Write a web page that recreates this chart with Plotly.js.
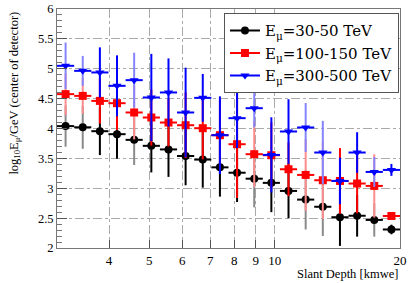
<!DOCTYPE html>
<html>
<head>
<meta charset="utf-8">
<script src="https://cdn.plot.ly/plotly-3.0.1.min.js"></script>
<style>html,body{margin:0;padding:0;background:#fff}#plot{width:415px;height:283px}</style>
</head>
<body>
<div id="plot"></div>
<script>
// Slant depth bin centres [kmwe]
const slantDepth = [3.146, 3.459, 3.803, 4.181, 4.597, 5.055, 5.558, 6.110, 6.718, 7.387, 8.122, 8.930, 9.818, 10.795, 11.870, 13.050, 14.349, 15.777, 17.346, 19.072];
// log10 E / GeV
const e30_50   = [4.04, 4.02, 3.955, 3.905, 3.81, 3.71, 3.65, 3.54, 3.48, 3.35, 3.26, 3.16, 3.09, 2.955, 2.81, 2.69, 2.515, 2.54, 2.47, 2.31];
const e30_50Err = [0.345, 0.36, 0.40, 0.41, 0.42, 0.445, 0.46, 0.49, 0.47, 0.49, 0.49, 0.48, 0.49, 0.46, 0.50, 0.49, 0.48, 0.35, 0.28, 0.08];
const e100_150 = [4.575, 4.546, 4.462, 4.424, 4.268, 4.184, 4.10, 4.055, 4.005, 3.888, 3.737, 3.57, 3.553, 3.318, 3.223, 3.134, 3.122, 3.079, 3.039, 2.536];
const e100_150Err = [0.35, 0.30, 0.38, 0.45, 0.45, 0.47, 0.40, 0.55, 0.52, 0.60, 0.90, 0.55, 0.55, 0.45, 0.60, 0.65, 0.55, 0.50, 0.53, 0.05];
const e300_500 = [5.049, 4.965, 4.938, 4.714, 4.809, 4.519, 4.603, 4.268, 4.513, 3.888, 4.173, 4.34, 3.558, 3.95, 4.017, 3.598, 3.122, 3.598, 3.273, 3.307];
const e300_500Err = [0.39, 0.25, 0.42, 0.51, 0.46, 0.73, 0.57, 0.75, 0.40, 0.65, 0.50, 0.32, 0.63, 0.54, 0.41, 0.53, 0.39, 0.34, 0.25, 0.10];
// bins whose error bars are drawn faded
const fadedBin = [1,1,0,0,1,0,0,0,0,0,0,1,0,0,1,1,0,0,1,0];
const seriesNames = ['E<sub>μ</sub>=30-50 TeV', 'E<sub>μ</sub>=100-150 TeV', 'E<sub>μ</sub>=300-500 TeV'];
const xTickVals = [4, 5, 6, 7, 8, 9, 10, 20];

const binHalf = Math.sqrt(Math.pow(20/3, 1/20));
const xPlus = slantDepth.map(v => v*binHalf - v);
const xMinus = slantDepth.map(v => v - v/binHalf);

const series = [
  {y: e30_50, err: e30_50Err, solid: '#000000', faded: '#8a8a8a', symbol: 'circle', name: seriesNames[0]},
  {y: e100_150, err: e100_150Err, solid: '#ff0000', faded: '#ff8c8c', symbol: 'square', name: seriesNames[1]},
  {y: e300_500, err: e300_500Err, solid: '#0000ff', faded: '#8484ff', symbol: 'triangle-down', name: seriesNames[2]}
];

const traces = [];
series.forEach(s => {
  traces.push({
    x: slantDepth, y: s.y, type: 'scatter', mode: 'markers',
    marker: {size: 8, opacity: 0}, showlegend: false, hoverinfo: 'skip',
    error_y: {type: 'data', array: s.err.map((e,i)=>fadedBin[i]?e:0), color: s.faded, thickness: 2, width: 0}
  });
  traces.push({
    x: slantDepth, y: s.y, type: 'scatter', mode: 'markers',
    marker: {size: 8, color: s.solid, symbol: s.symbol}, showlegend: false,
    error_y: {type: 'data', array: s.err.map((e,i)=>fadedBin[i]?0:e), color: s.solid, thickness: 2, width: 0},
    error_x: {type: 'data', symmetric: false, array: xPlus, arrayminus: xMinus, color: s.solid, thickness: 2, width: 0}
  });
});
series.forEach(s => {
  traces.push({
    x: [null], y: [null], type: 'scatter', mode: 'lines+markers', name: s.name,
    line: {color: s.solid, width: 2}, marker: {size: 8, color: s.solid, symbol: s.symbol}
  });
});

const serif = 'Liberation Serif, Times New Roman, serif';
const layout = {
  width: 415, height: 283,
  margin: {l: 57, r: 15, t: 9, b: 35},
  paper_bgcolor: '#fff', plot_bgcolor: '#fff',
  font: {family: serif, size: 12, color: '#000'},
  showlegend: true,
  legend: {
    x: 0.997, xanchor: 'right', y: 0.982, yanchor: 'top',
    bgcolor: '#fff', bordercolor: '#555', borderwidth: 1,
    font: {family: 'DejaVu Serif, serif', size: 15, color: '#000'},
    tracegroupgap: 0
  },
  xaxis: {
    type: 'log', range: [Math.log10(3), Math.log10(20)],
    tickvals: xTickVals, ticktext: xTickVals.map(String),
    ticks: 'inside', ticklen: 8, tickcolor: '#555',
    showline: true, linecolor: '#777', linewidth: 1, mirror: true,
    showgrid: true, gridcolor: '#aaa', griddash: 'dashdot', gridwidth: 1,
    zeroline: false, tickfont: {family: serif, size: 13}
  },
  yaxis: {
    range: [2, 6], dtick: 0.5, tick0: 2,
    ticks: 'inside', ticklen: 10, tickcolor: '#555',
    minor: {dtick: 0.1, ticks: 'inside', ticklen: 5, tickcolor: '#777', showgrid: false},
    showline: true, linecolor: '#777', linewidth: 1, mirror: true,
    showgrid: true, gridcolor: '#aaa', griddash: 'dashdot', gridwidth: 1,
    zeroline: false, tickfont: {family: serif, size: 12.5}
  },
  annotations: [
    {text: 'Slant Depth [kmwe]', xref: 'paper', yref: 'paper', x: 1, xanchor: 'right', y: -0.11, yanchor: 'middle', showarrow: false, font: {family: serif, size: 12.5}},
    {text: 'log<sub>10</sub>E<sub>μ</sub>/GeV (center of detector)', xref: 'paper', yref: 'paper', x: -0.122, xanchor: 'center', y: 0.996, yanchor: 'top', textangle: -90, showarrow: false, font: {family: serif, size: 12.5}}
  ]
};
Plotly.newPlot('plot', traces, layout, {staticPlot: true, displayModeBar: false});
</script>
</body>
</html>
